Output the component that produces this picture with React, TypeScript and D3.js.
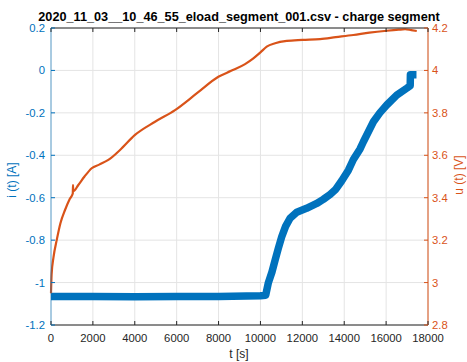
import React from "react";
import * as d3 from "d3";

const title = "2020_11_03__10_46_55_eload_segment_001.csv - charge segment";
const xTicks = [0, 2000, 4000, 6000, 8000, 10000, 12000, 14000, 16000, 18000];
const leftTicks = [0.2, 0, -0.2, -0.4, -0.6, -0.8, -1, -1.2];
const rightTicks = [4.2, 4, 3.8, 3.6, 3.4, 3.2, 3, 2.8];

const currentT = [0, 2000, 4000, 6000, 8000, 10000, 10250, 10380, 10550, 10700, 10850, 11016, 11200, 11414, 11733, 12200, 12688, 13000, 13324, 13600, 13882, 14200, 14437, 14756, 14915, 15393, 15700, 16030, 16507, 16984, 17150, 17160, 17450];
const currentI = [-1.066, -1.066, -1.067, -1.066, -1.066, -1.062, -1.06, -1.0, -0.95, -0.894, -0.84, -0.784, -0.735, -0.697, -0.668, -0.65, -0.627, -0.608, -0.585, -0.56, -0.52, -0.47, -0.42, -0.37, -0.336, -0.242, -0.2, -0.163, -0.116, -0.084, -0.072, -0.02, -0.02];

const voltageT = [0, 30, 120, 272, 450, 669, 900, 1040, 1050, 1062, 1304, 1600, 1943, 2300, 2737, 3295, 4011, 4967, 5922, 7000, 7991, 8600, 9265, 9662, 10000, 10300, 10700, 11256, 12000, 12846, 13600, 14437, 15200, 16030, 16600, 16906, 17200, 17464];
const voltageU = [2.95, 3.04, 3.12, 3.2, 3.28, 3.342, 3.395, 3.42, 3.46, 3.43, 3.46, 3.5, 3.539, 3.556, 3.578, 3.625, 3.696, 3.758, 3.813, 3.895, 3.97, 3.998, 4.03, 4.057, 4.085, 4.112, 4.128, 4.139, 4.144, 4.148, 4.157, 4.167, 4.178, 4.187, 4.192, 4.194, 4.19, 4.186];

const BLUE = "#0072BD";
const ORANGE = "#D95319";
const DARK = "#262626";
const FONT = "'Liberation Sans', Arial, Helvetica, sans-serif";

export default function App() {
  const W = 467, H = 362;
  const L = 51, R = 428, T = 28, B = 325;
  const x = d3.scaleLinear().domain([0, 18000]).range([L, R]);
  const yl = d3.scaleLinear().domain([-1.2, 0.2]).range([B, T]);
  const yr = d3.scaleLinear().domain([2.8, 4.2]).range([B, T]);

  const iLine = d3.line<number>().x((_, k) => x(currentT[k])).y((v) => yl(v));
  const uLine = d3.line<number>().x((_, k) => x(voltageT[k])).y((v) => yr(v)).curve(d3.curveMonotoneX);

  const fmtL = (v: number) => (v === 0 ? "0" : String(+v.toFixed(1)));
  const fmtR = (v: number) => String(+v.toFixed(1));

  return (
    <svg width={W} height={H} style={{ position: "absolute", left: 0, top: 0, background: "#fff" }} fontFamily={FONT}>
      <rect x={0} y={0} width={W} height={H} fill="#fff" />
      {xTicks.map((t) => (
        <line key={"gx" + t} x1={x(t)} x2={x(t)} y1={T} y2={B} stroke="#e4e4e4" strokeWidth={1} />
      ))}
      {leftTicks.map((t) => (
        <line key={"gy" + t} x1={L} x2={R} y1={yl(t)} y2={yl(t)} stroke="#e4e4e4" strokeWidth={1} />
      ))}
      <path d={iLine(currentI) || ""} fill="none" stroke={BLUE} strokeWidth={7.5} strokeLinejoin="round" />
      <path d={uLine(voltageU) || ""} fill="none" stroke={ORANGE} strokeWidth={2.2} strokeLinejoin="round" />
      <line x1={L} x2={R} y1={T} y2={T} stroke={DARK} strokeWidth={1} />
      <line x1={L} x2={R} y1={B} y2={B} stroke={DARK} strokeWidth={1} />
      <line x1={L} x2={L} y1={T} y2={B} stroke={BLUE} strokeWidth={1} opacity={0.6} />
      <line x1={R} x2={R} y1={T} y2={B} stroke={ORANGE} strokeWidth={1} />
      {xTicks.map((t) => (
        <g key={"xt" + t}>
          <line x1={x(t)} x2={x(t)} y1={B} y2={B - 4} stroke={DARK} />
          <line x1={x(t)} x2={x(t)} y1={T} y2={T + 4} stroke={DARK} />
          <text x={x(t)} y={342} textAnchor="middle" fontSize={11.3} fill={DARK}>{t}</text>
        </g>
      ))}
      {leftTicks.map((t) => (
        <g key={"lt" + t}>
          <line x1={L} x2={L + 4} y1={yl(t)} y2={yl(t)} stroke={BLUE} />
          <text x={45} y={yl(t)} dy="0.35em" textAnchor="end" fontSize={11.3} fill={BLUE}>{fmtL(t)}</text>
        </g>
      ))}
      {rightTicks.map((t) => (
        <g key={"rt" + t}>
          <line x1={R} x2={R - 4} y1={yr(t)} y2={yr(t)} stroke={ORANGE} />
          <text x={432} y={yr(t)} dy="0.35em" textAnchor="start" fontSize={11.3} fill={ORANGE}>{fmtR(t)}</text>
        </g>
      ))}
      <text x={239} y={358} textAnchor="middle" fontSize={12} fill={DARK}>t [s]</text>
      <text transform="translate(16,180) rotate(-90)" textAnchor="middle" fontSize={12} fill={BLUE}>i (t) [A]</text>
      <text transform="translate(463,175) rotate(-90)" textAnchor="middle" fontSize={12} fill={ORANGE}>u (t) [V]</text>
      <text x={239} y={21} textAnchor="middle" fontSize={12.7} fontWeight="bold" fill="#000">{title}</text>
    </svg>
  );
}
